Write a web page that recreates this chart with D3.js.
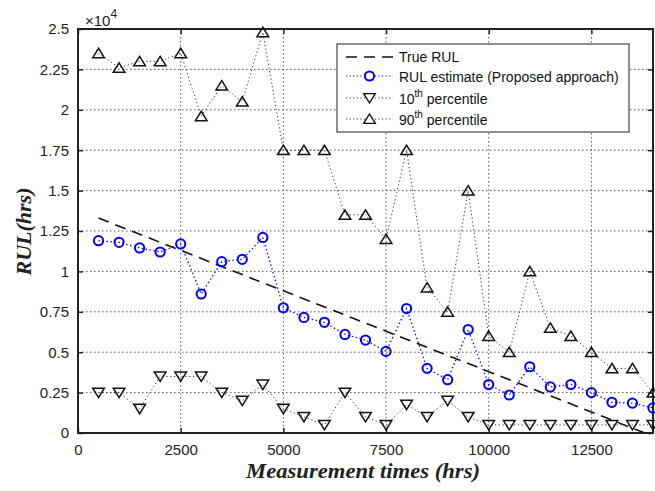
<!DOCTYPE html>
<html>
<head>
<meta charset="utf-8">
<script src="https://cdn.jsdelivr.net/npm/d3@7"></script>
<style>
  body { margin: 0; background: #fff; }
  svg { display: block; }
</style>
</head>
<body>
<div id="chart"></div>
<script>
// ---------- data ----------
const times = [500,1000,1500,2000,2500,3000,3500,4000,4500,5000,5500,6000,6500,7000,
               7500,8000,8500,9000,9500,10000,10500,11000,11500,12000,12500,13000,13500,14000];
const rulEstimate = [11900,11800,11450,11200,11700,8600,10600,10750,12100,7750,7150,6850,6100,5750,
                     5050,7700,4000,3300,6400,3000,2350,4100,2850,3000,2500,1900,1850,1550];
const p10 = [2500,2500,1500,3500,3500,3500,2500,2000,3000,1500,1000,500,2500,1000,
             500,1750,1000,2000,1000,500,500,500,500,500,500,500,500,500];
const p90 = [23500,22600,23000,23000,23500,19600,21500,20500,24800,17500,17500,17500,13500,13500,
             12000,17500,9000,7500,15000,6000,5000,10000,6500,6000,5000,4000,4000,2500];
const trueRulT = [500, 13800];
const trueRulV = [13300, 0];
const xTicks = [0,2500,5000,7500,10000,12500];
const yTicks = [0,2500,5000,7500,10000,12500,15000,17500,20000,22500,25000];
const yTickLabels = ["0","0.25","0.5","0.75","1","1.25","1.5","1.75","2","2.25","2.5"];
const legendLabels = [["True RUL",""],["RUL estimate (Proposed approach)",""],["10","th"],["90","th"]];

// ---------- layout ----------
const W = 655, H = 491;
const L = 78, R = 653, T = 29, B = 433;
const svg = d3.select("#chart").append("svg").attr("width", W).attr("height", H);

const x = d3.scaleLinear().domain([0, 14000]).range([L, R]);
const y = d3.scaleLinear().domain([0, 25000]).range([B, T]);

const tickFont = "'Liberation Sans', Arial, Helvetica, sans-serif";

// grid
const grid = svg.append("g");
grid.selectAll("line.vx").data(xTicks.filter(d => d > 0)).join("line")
  .attr("x1", d => x(d)).attr("x2", d => x(d)).attr("y1", T).attr("y2", B)
  .attr("stroke", "#555").attr("stroke-width", 1).attr("stroke-dasharray", "1.5,2.5");
grid.selectAll("line.hy").data(yTicks.filter(d => d > 0 && d < 25000)).join("line")
  .attr("x1", L).attr("x2", R).attr("y1", d => y(d)).attr("y2", d => y(d))
  .attr("stroke", "#555").attr("stroke-width", 1).attr("stroke-dasharray", "1.5,2.5");

// axes (ticks inward)
const axB = svg.append("g").attr("transform", `translate(0,${B})`)
  .call(d3.axisBottom(x).tickValues(xTicks).tickSize(-5).tickPadding(11.5).tickFormat(d3.format("d")));
const axT = svg.append("g").attr("transform", `translate(0,${T})`)
  .call(d3.axisTop(x).tickValues(xTicks).tickSize(-5).tickFormat(""));
const axL = svg.append("g").attr("transform", `translate(${L},0)`)
  .call(d3.axisLeft(y).tickValues(yTicks).tickSize(-5).tickPadding(9)
        .tickFormat((d, i) => yTickLabels[i]));
const axR = svg.append("g").attr("transform", `translate(${R},0)`)
  .call(d3.axisRight(y).tickValues(yTicks).tickSize(-5).tickFormat(""));
[axB, axT, axL, axR].forEach(g => {
  g.select(".domain").remove();
  g.selectAll(".tick line").attr("stroke", "#222").attr("stroke-width", 1.5);
  g.selectAll("text").attr("font-family", tickFont).attr("font-size", 15).attr("fill", "#222");
});

// frame
svg.append("rect").attr("x", L).attr("y", T).attr("width", R - L).attr("height", B - T)
  .attr("fill", "none").attr("stroke", "#222").attr("stroke-width", 2);

// x10^4
const mult = svg.append("text").attr("x", L + 7).attr("y", 26)
  .attr("font-family", tickFont).attr("font-size", 15).attr("fill", "#222");
mult.append("tspan").text("\u00d710");
mult.append("tspan").attr("dy", -8).attr("font-size", 12).text("4");

// clip for dashed line
svg.append("clipPath").attr("id", "clip").append("rect")
  .attr("x", L).attr("y", T).attr("width", R - L).attr("height", B - T);

// true RUL dashed
const trueData = trueRulT.map((t, i) => [t, trueRulV[i]]);
svg.append("path").datum(trueData)
  .attr("d", d3.line().x(d => x(d[0])).y(d => y(d[1])))
  .attr("fill", "none").attr("stroke", "#111").attr("stroke-width", 1.6)
  .attr("stroke-dasharray", "11,7").attr("clip-path", "url(#clip)");

const line = d3.line().x(d => x(d[0])).y(d => y(d[1]));
const triUp = "M0,-5L5.8,4.4L-5.8,4.4Z";
const triDown = "M0,5L5.8,-4.4L-5.8,-4.4Z";

function series(vals, color, dash, width) {
  const data = times.map((t, i) => [t, vals[i]]);
  svg.append("path").datum(data).attr("d", line)
    .attr("fill", "none").attr("stroke", color).attr("stroke-width", width)
    .attr("stroke-dasharray", dash);
  return data;
}

const d90 = series(p90, "#333", "1.2,2.6", 1);
const d10 = series(p10, "#333", "1.2,2.6", 1);
const dEst = series(rulEstimate, "#0000ff", "1.4,2.6", 1.3);

svg.append("g").selectAll("path").data(d90).join("path")
  .attr("transform", d => `translate(${x(d[0])},${y(d[1])})`)
  .attr("d", triUp).attr("fill", "none").attr("stroke", "#111").attr("stroke-width", 1.5);
svg.append("g").selectAll("path").data(d10).join("path")
  .attr("transform", d => `translate(${x(d[0])},${y(d[1])})`)
  .attr("d", triDown).attr("fill", "none").attr("stroke", "#111").attr("stroke-width", 1.5);
svg.append("g").selectAll("circle").data(dEst).join("circle")
  .attr("cx", d => x(d[0])).attr("cy", d => y(d[1])).attr("r", 4.6)
  .attr("fill", "none").attr("stroke", "#0000ff").attr("stroke-width", 2);

// legend
const lg = svg.append("g");
lg.append("rect").attr("x", 337).attr("y", 44).attr("width", 292).attr("height", 88)
  .attr("fill", "#fff").attr("stroke", "#444").attr("stroke-width", 1.2);
const rowY = [57, 76, 98, 119];
const lx1 = 346, lx2 = 393, lmx = 369.5, ltx = 399;
// row 0 dashed
lg.append("line").attr("x1", lx1).attr("x2", lx2).attr("y1", rowY[0]).attr("y2", rowY[0])
  .attr("stroke", "#111").attr("stroke-width", 1.6).attr("stroke-dasharray", "11,7");
// row 1 blue
lg.append("line").attr("x1", lx1).attr("x2", lx2).attr("y1", rowY[1]).attr("y2", rowY[1])
  .attr("stroke", "#0000ff").attr("stroke-width", 1.2).attr("stroke-dasharray", "1.2,2.4");
lg.append("circle").attr("cx", lmx).attr("cy", rowY[1]).attr("r", 4.6).attr("fill", "#fff")
  .attr("stroke", "#0000ff").attr("stroke-width", 2);
// row 2,3
[2, 3].forEach(k => {
  lg.append("line").attr("x1", lx1).attr("x2", lx2).attr("y1", rowY[k]).attr("y2", rowY[k])
    .attr("stroke", "#333").attr("stroke-width", 1).attr("stroke-dasharray", "1.2,2.4");
  lg.append("path").attr("transform", `translate(${lmx},${rowY[k]})`)
    .attr("d", k === 2 ? triDown : triUp).attr("fill", "#fff").attr("stroke", "#111").attr("stroke-width", 1.4);
});
const baseY = [62, 82, 104, 125];
legendLabels.forEach((lab, i) => {
  const t = lg.append("text").attr("x", ltx).attr("y", baseY[i])
    .attr("font-family", tickFont).attr("font-size", 14).attr("fill", "#111");
  t.append("tspan").text(lab[0]);
  if (lab[1]) {
    t.append("tspan").attr("dy", -7).attr("font-size", 10).text(lab[1]);
    t.append("tspan").attr("dy", 7).text(" percentile");
  }
});

// axis labels
const labFont = "'Liberation Serif', 'Times New Roman', Times, serif";
svg.append("text").attr("x", 363).attr("y", 478).attr("text-anchor", "middle")
  .attr("font-family", labFont).attr("font-weight", "bold").attr("font-style", "italic")
  .attr("font-size", 22).attr("textLength", 234).attr("lengthAdjust", "spacingAndGlyphs")
  .attr("fill", "#222").text("Measurement times (hrs)");
svg.append("text").attr("transform", `translate(31,${(188 + 275) / 2}) rotate(-90)`)
  .attr("text-anchor", "middle")
  .attr("font-family", labFont).attr("font-weight", "bold").attr("font-style", "italic")
  .attr("font-size", 22).attr("fill", "#222").text("RUL(hrs)");
</script>
</body>
</html>
